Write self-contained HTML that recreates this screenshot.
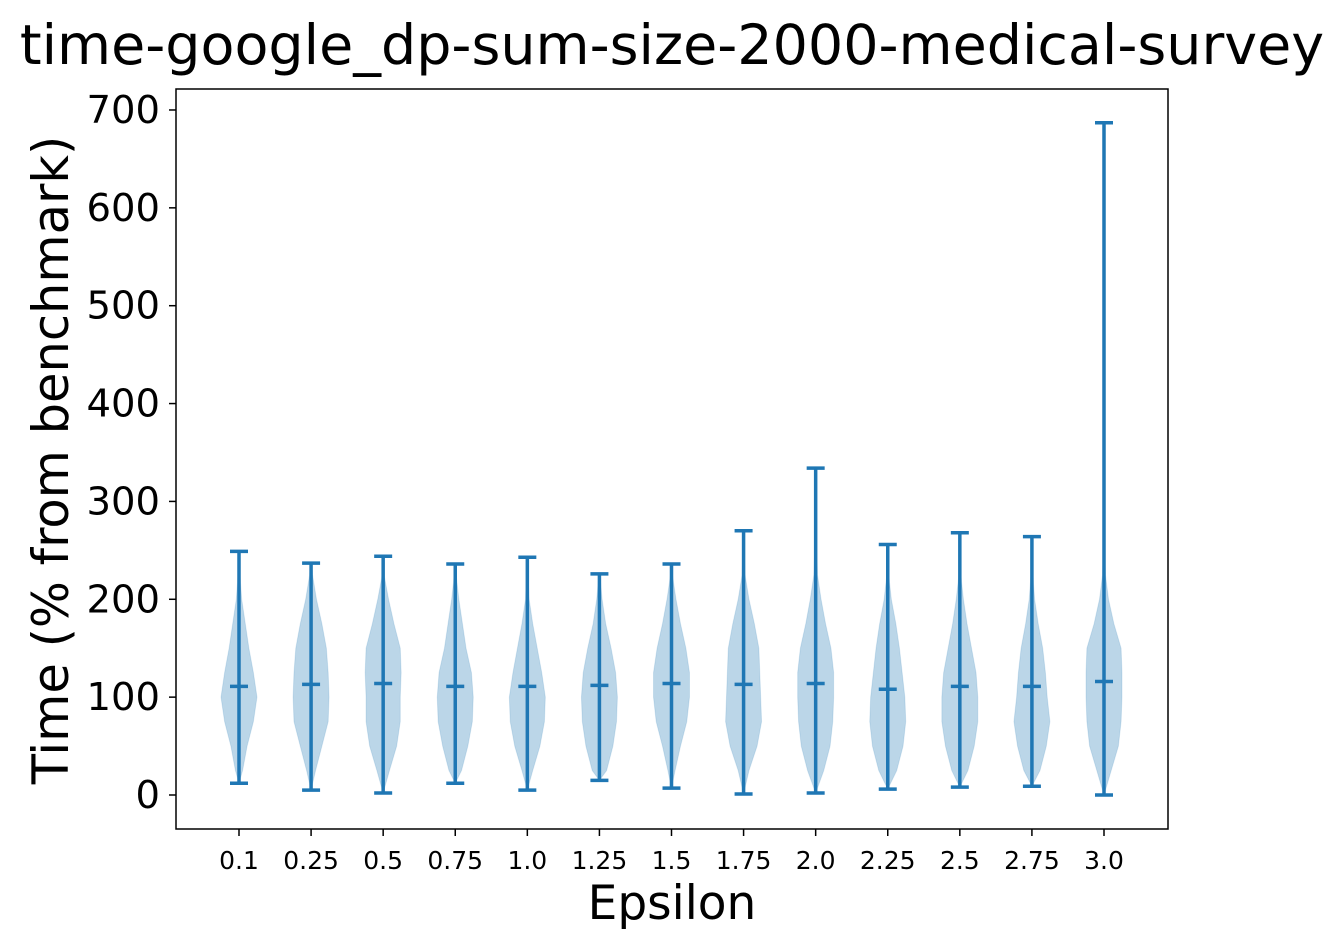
<!DOCTYPE html>
<html><head><meta charset="utf-8"><style>
body{margin:0;background:#fff;}
svg{display:block;font-family:"DejaVu Sans","Liberation Sans",sans-serif;}
</style></head><body>
<svg id="chart" width="1344" height="949" viewBox="0 0 1344 949">
<text x="672" y="64" text-anchor="middle" font-size="55.5">time-google_dp-sum-size-2000-medical-survey</text>
<g id="plot"></g>
<rect x="176" y="89" width="992" height="740" fill="none" stroke="#000" stroke-width="1.5"/>
<text x="672" y="919" text-anchor="middle" font-size="47">Epsilon</text>
<text transform="translate(68,460) rotate(-90)" text-anchor="middle" font-size="49.5">Time (% from benchmark)</text>
</svg>
<script>
const categories=["0.1","0.25","0.5","0.75","1.0","1.25","1.5","1.75","2.0","2.25","2.5","2.75","3.0"];
const maxVals=[249,237,244,236,243,226,236,270,334,256,268,264,687];
const minVals=[12,5,2,12,5,15,7,1,2,6,8,9,0];
const meanVals=[111,113,114,111,111,112,114,113,114,108,111,111,116];
const densityLevels=[0,25,50,75,100,125,150,175,200,225,250];
const densities=[
[0.05,0.2,0.45,0.8,1.0,0.8,0.55,0.35,0.15,0.05,0.02],
[0.05,0.25,0.6,0.95,1.0,0.95,0.85,0.6,0.3,0.08,0.02],
[0.05,0.35,0.75,0.95,0.95,1.0,0.95,0.6,0.3,0.05,0.02],
[0.1,0.35,0.7,0.95,1.0,0.9,0.6,0.4,0.2,0.05,0.02],
[0.05,0.3,0.7,0.95,1.0,0.8,0.55,0.3,0.1,0.03,0.02],
[0.1,0.4,0.75,0.95,1.0,0.9,0.65,0.35,0.15,0.02,0],
[0.05,0.2,0.5,0.85,1.0,1.0,0.8,0.5,0.25,0.05,0.02],
[0.05,0.3,0.75,1.0,0.95,0.9,0.85,0.6,0.3,0.08,0.03],
[0.1,0.45,0.8,0.95,1.0,1.0,0.85,0.55,0.3,0.1,0.05],
[0.1,0.5,0.85,1.0,0.95,0.8,0.65,0.45,0.2,0.05,0.02],
[0.1,0.45,0.8,1.0,1.0,0.9,0.65,0.4,0.2,0.05,0.02],
[0.1,0.45,0.8,1.0,0.85,0.75,0.6,0.35,0.15,0.05,0.02],
[0.05,0.4,0.8,0.95,1.0,1.0,0.95,0.55,0.25,0.08,0.03]
];
const yTicks=[0,100,200,300,400,500,600,700];

const NS="http://www.w3.org/2000/svg";
const g=document.getElementById('plot');
const y=v=>795-v*0.9786;
const x=i=>239+i*(1104-239)/12;
const HW=18;
function mk(t,a){const e=document.createElementNS(NS,t);for(const k in a)e.setAttribute(k,a[k]);g.appendChild(e);return e;}
yTicks.forEach(t=>{
  const l=mk('line',{x1:169,x2:176,y1:y(t),y2:y(t),stroke:'#000','stroke-width':1.5});
  
  
  const tx=mk('text',{x:160,y:y(t)+13,'text-anchor':'end','font-size':38.5});
  tx.textContent=t;
  
  
});
categories.forEach((c,i)=>{
  const cx=x(i);
  const l=mk('line',{x1:cx,x2:cx,y1:829,y2:836,stroke:'#000','stroke-width':1.5});
  
  
  const tx=mk('text',{x:cx,y:869,'text-anchor':'middle','font-size':25});
  tx.textContent=c;
  
  
  const pts=[[minVals[i],0]];
  densityLevels.forEach((lv,k)=>{if(lv>minVals[i]&&lv<maxVals[i])pts.push([lv,densities[i][k]]);});
  pts.push([maxVals[i],0]);
  let right=pts.map(p=>(cx+p[1]*HW)+','+y(p[0]));
  let left=pts.slice().reverse().map(p=>(cx-p[1]*HW)+','+y(p[0]));
  const pg=mk('polygon',{points:right.concat(left).join(' '),fill:'#1f77b4','fill-opacity':0.3,stroke:'#1f77b4','stroke-opacity':0.15,'stroke-width':1,'stroke-linejoin':'round'});
  
  
  const st={stroke:'#1f77b4','stroke-width':3.5};
  const v=mk('line',Object.assign({x1:cx,x2:cx,y1:y(minVals[i]),y2:y(maxVals[i])},st));
  
  
  [[maxVals[i],'violin-max-cap'],[minVals[i],'violin-min-cap'],[meanVals[i],'violin-mean-line']].forEach(([val,n])=>{
    const h=mk('line',Object.assign({x1:cx-9,x2:cx+9,y1:y(val),y2:y(val)},st));
    
    
  });
});
</script>
</body></html>
